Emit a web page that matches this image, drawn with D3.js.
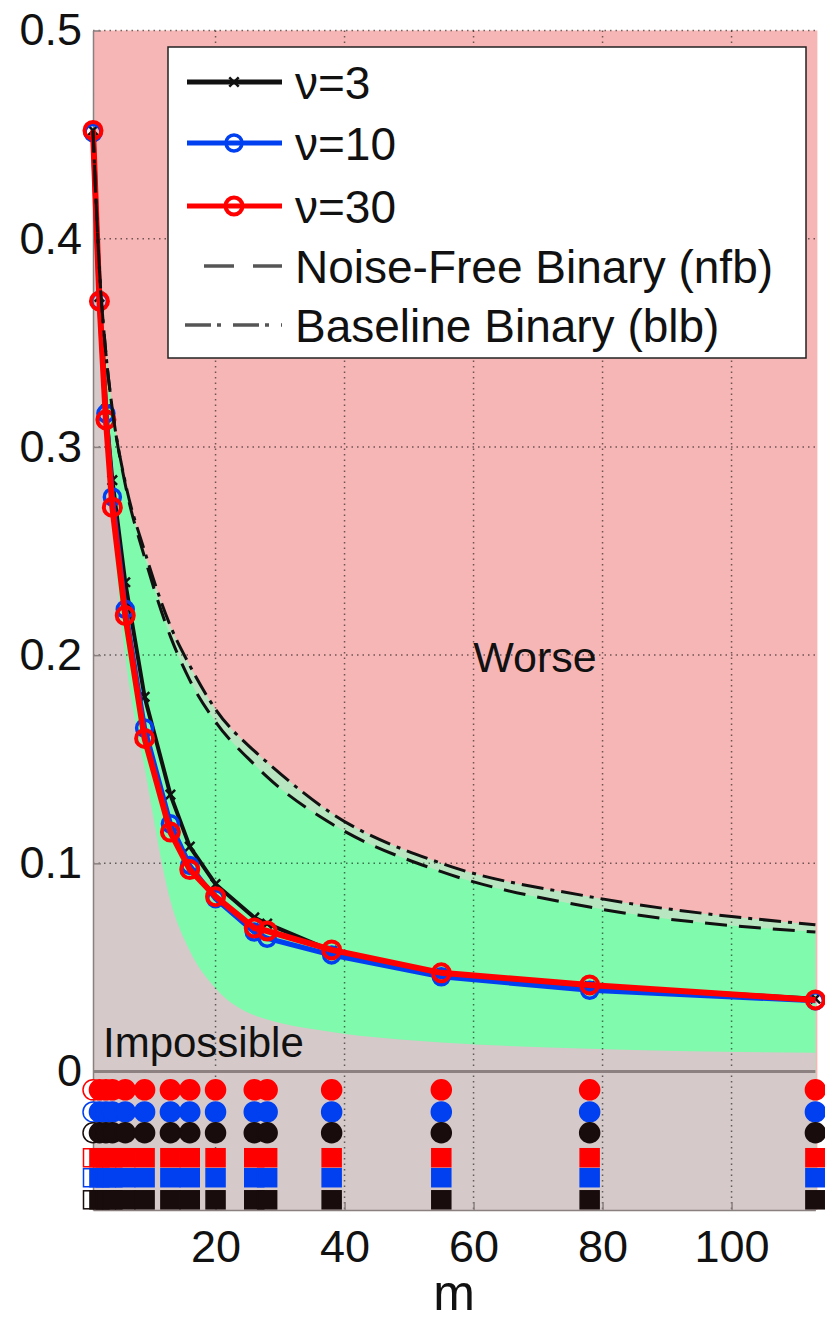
<!DOCTYPE html>
<html lang="en">
<head>
<meta charset="UTF-8">
<title>m vs error</title>
<style>
  body { margin: 0; background: #fff; }
  svg text { font-family: "Liberation Sans", Arial, sans-serif; fill: #111; }
  .axis path, .axis line { stroke: #8a8080; stroke-width: 1.5; }
  .axis text { font-size: 45px; fill: #111; }
</style>
</head>
<body>
<div id="chart"></div>
<script src="https://d3js.org/d3.v7.min.js"></script>
<script>
// values
var mVals   = [1, 2, 3, 4, 6, 9, 13, 16, 20, 26, 28, 38, 55, 78, 113];
var nu3     = [0.452, 0.372, 0.318, 0.284, 0.235, 0.180, 0.133, 0.108, 0.090, 0.074, 0.071, 0.058, 0.047, 0.041, 0.035];
var nu10    = [0.451, 0.370, 0.316, 0.276, 0.222, 0.165, 0.119, 0.099, 0.083, 0.067, 0.064, 0.056, 0.0455, 0.039, 0.034];
var nu30    = [0.452, 0.370, 0.313, 0.271, 0.219, 0.160, 0.115, 0.097, 0.084, 0.069, 0.0675, 0.0584, 0.0474, 0.0416, 0.0344];
var nfb     = [0.452, 0.385, 0.345, 0.318, 0.282, 0.247, 0.209, 0.188, 0.168, 0.1475, 0.1415, 0.119, 0.096, 0.079, 0.067];
var blb     = [0.452, 0.385, 0.345, 0.318, 0.283, 0.250, 0.214, 0.195, 0.174, 0.154, 0.1485, 0.124, 0.100, 0.084, 0.0705];
var lowBound = [0.5, 0.36, 0.30, 0.262, 0.20, 0.146, 0.082, 0.058, 0.040, 0.027, 0.025, 0.019, 0.014, 0.011, 0.009];
var filledMark = [false, true, true, true, true, true, true, true, true, true, true, true, true, true, true];
var xTicks = [20, 40, 60, 80, 100];
var yTicks = [0, 0.1, 0.2, 0.3, 0.4, 0.5];
var legendLabels = ["\u03bd=3", "\u03bd=10", "\u03bd=30", "Noise-Free Binary (nfb)", "Baseline Binary (blb)"];

var width = 825, height = 1324;
var cRed = "#ff0000", cBlue = "#0040f0", cBlack = "#111";

var svg = d3.select("#chart").append("svg")
    .attr("width", width).attr("height", height);

var x = d3.scaleLinear().domain([1, 113]).range([93, 815.4]);
var y = d3.scaleLinear().domain([-0.0665, 0.5]).range([1210, 30.5]);
var yMin = y.domain()[0];

var pts = function(arr) { return arr.map(function(v, i) { return [mVals[i], v]; }); };

// background regions
svg.append("rect")
    .attr("x", x(1)).attr("y", y(0.5))
    .attr("width", x(113) - x(1) + 2).attr("height", y(yMin) - y(0.5))
    .attr("fill", "#f7b6b6");

var areaBelow = d3.area().curve(d3.curveMonotoneX)
    .x(function(d) { return x(d[0]); })
    .y0(y(yMin))
    .y1(function(d) { return y(d[1]); });

svg.append("path").attr("d", areaBelow(pts(blb))).attr("fill", "#b8e6c0");
svg.append("path").attr("d", areaBelow(pts(nfb))).attr("fill", "#80faac");
svg.append("path").attr("d", areaBelow(pts(lowBound))).attr("fill", "#d5c9c9");

// dotted grid
var grid = svg.append("g").attr("stroke", "#000").attr("stroke-opacity", 0.55)
    .attr("stroke-width", 1.5).attr("stroke-dasharray", "1.5,4");
grid.selectAll(".gx").data(xTicks).enter().append("line")
    .attr("x1", function(d) { return x(d); }).attr("x2", function(d) { return x(d); })
    .attr("y1", y(0.5)).attr("y2", y(yMin));
grid.selectAll(".gy").data(yTicks.filter(function(d) { return d > 0; })).enter().append("line")
    .attr("x1", x(1)).attr("x2", x(113))
    .attr("y1", function(d) { return y(d); }).attr("y2", function(d) { return y(d); });

// zero line
svg.append("line")
    .attr("x1", x(1)).attr("x2", x(113))
    .attr("y1", y(0)).attr("y2", y(0))
    .attr("stroke", "#8c8080").attr("stroke-width", 3);

// axes
svg.append("g").attr("class", "axis")
    .attr("transform", "translate(" + x(1) + ",0)")
    .call(d3.axisLeft(y).tickValues(yTicks)
        .tickFormat(function(d) { return d === 0 ? "0" : d3.format(".1f")(d); })
        .tickSizeInner(-8).tickSizeOuter(0).tickPadding(11));
svg.append("g").attr("class", "axis")
    .attr("transform", "translate(0," + y(yMin) + ")")
    .call(d3.axisBottom(x).tickValues(xTicks).tickFormat(d3.format("d"))
        .tickSizeInner(-8).tickSizeOuter(0).tickPadding(20));
svg.selectAll(".axis .domain").attr("stroke", "#8a8080");

// series lines
var line = d3.line()
    .x(function(d) { return x(d[0]); })
    .y(function(d) { return y(d[1]); });
var smooth = d3.line().curve(d3.curveMonotoneX)
    .x(function(d) { return x(d[0]); })
    .y(function(d) { return y(d[1]); });

svg.append("path").attr("d", line(pts(nu3)))
    .attr("fill", "none").attr("stroke", cBlack).attr("stroke-width", 4);
svg.append("g").selectAll("path").data(pts(nu3)).enter().append("path")
    .attr("d", d3.symbol(d3.symbolX, 60))
    .attr("transform", function(d) { return "translate(" + x(d[0]) + "," + y(d[1]) + ")"; })
    .attr("stroke", cBlack).attr("stroke-width", 2.5);

svg.append("path").attr("d", line(pts(nu10)))
    .attr("fill", "none").attr("stroke", cBlue).attr("stroke-width", 5);
svg.append("g").selectAll("circle").data(pts(nu10)).enter().append("circle")
    .attr("cx", function(d) { return x(d[0]); }).attr("cy", function(d) { return y(d[1]); })
    .attr("r", 8).attr("fill", "none").attr("stroke", cBlue).attr("stroke-width", 3.5);

svg.append("path").attr("d", line(pts(nu30)))
    .attr("fill", "none").attr("stroke", cRed).attr("stroke-width", 6);
svg.append("g").selectAll("circle").data(pts(nu30)).enter().append("circle")
    .attr("cx", function(d) { return x(d[0]); }).attr("cy", function(d) { return y(d[1]); })
    .attr("r", 8.5).attr("fill", "none").attr("stroke", cRed).attr("stroke-width", 4);

svg.append("path").attr("d", smooth(pts(nfb)))
    .attr("fill", "none").attr("stroke", "#111").attr("stroke-width", 3)
    .attr("stroke-dasharray", "22,12");
svg.append("path").attr("d", smooth(pts(blb)))
    .attr("fill", "none").attr("stroke", "#111").attr("stroke-width", 3)
    .attr("stroke-dasharray", "22,7,4,7");

// marker rows below zero
var markerRows = [
    { level: -0.0088, color: cRed,  shape: "circle" },
    { level: -0.0194, color: cBlue, shape: "circle" },
    { level: -0.0294, color: "#180c0c", shape: "circle" },
    { level: -0.0414, color: cRed,  shape: "square" },
    { level: -0.0510, color: cBlue, shape: "square" },
    { level: -0.0616, color: "#180c0c", shape: "square" }
];
markerRows.forEach(function(row) {
    var g = svg.append("g");
    mVals.forEach(function(m, i) {
        var fill = filledMark[i] ? row.color : "#fff";
        if (row.shape === "circle") {
            g.append("circle").attr("cx", x(m)).attr("cy", y(row.level)).attr("r", 10)
                .attr("fill", fill).attr("stroke", row.color).attr("stroke-width", 1.5);
        } else {
            g.append("rect").attr("x", x(m) - 9.5).attr("y", y(row.level) - 9)
                .attr("width", 19).attr("height", 18)
                .attr("fill", fill).attr("stroke", row.color).attr("stroke-width", 1.5);
        }
    });
});

// region labels
svg.append("text").attr("x", 535).attr("y", 672).attr("text-anchor", "middle")
    .attr("font-size", 43).text("Worse");
svg.append("text").attr("x", 103).attr("y", 1057)
    .attr("font-size", 42).text("Impossible");
svg.append("text").attr("x", (x(1) + x(113)) / 2).attr("y", 1310).attr("text-anchor", "middle")
    .attr("font-size", 50).text("m");

// legend
var lg = svg.append("g");
lg.append("rect").attr("x", 168).attr("y", 47).attr("width", 638).attr("height", 311)
    .attr("fill", "#fff").attr("stroke", "#222").attr("stroke-width", 1.5);
var rowsY = [82, 143, 206, 266, 325];
var lx1 = 187, lx2 = 282, lmid = 234;
lg.append("line").attr("x1", lx1).attr("x2", lx2).attr("y1", rowsY[0]).attr("y2", rowsY[0])
    .attr("stroke", cBlack).attr("stroke-width", 5);
lg.append("path").attr("d", d3.symbol(d3.symbolX, 60))
    .attr("transform", "translate(" + lmid + "," + rowsY[0] + ")")
    .attr("stroke", cBlack).attr("stroke-width", 2.5);
lg.append("line").attr("x1", lx1).attr("x2", lx2).attr("y1", rowsY[1]).attr("y2", rowsY[1])
    .attr("stroke", cBlue).attr("stroke-width", 5);
lg.append("circle").attr("cx", lmid).attr("cy", rowsY[1]).attr("r", 8)
    .attr("fill", "none").attr("stroke", cBlue).attr("stroke-width", 3.5);
lg.append("line").attr("x1", lx1).attr("x2", lx2).attr("y1", rowsY[2]).attr("y2", rowsY[2])
    .attr("stroke", cRed).attr("stroke-width", 5);
lg.append("circle").attr("cx", lmid).attr("cy", rowsY[2]).attr("r", 8.5)
    .attr("fill", "none").attr("stroke", cRed).attr("stroke-width", 4);
lg.append("line").attr("x1", 204).attr("x2", lx2).attr("y1", rowsY[3]).attr("y2", rowsY[3])
    .attr("stroke", "#555").attr("stroke-width", 3.5).attr("stroke-dasharray", "30,19");
lg.append("line").attr("x1", lx1 - 2).attr("x2", lx2).attr("y1", rowsY[4]).attr("y2", rowsY[4])
    .attr("stroke", "#555").attr("stroke-width", 3.5).attr("stroke-dasharray", "26,6,4,12");
lg.selectAll(".lt").data(legendLabels).enter().append("text")
    .attr("x", 295).attr("y", function(d, i) { return rowsY[i]; })
    .attr("dy", "0.36em").attr("font-size", 46)
    .text(function(d) { return d; });
</script>
</body>
</html>
